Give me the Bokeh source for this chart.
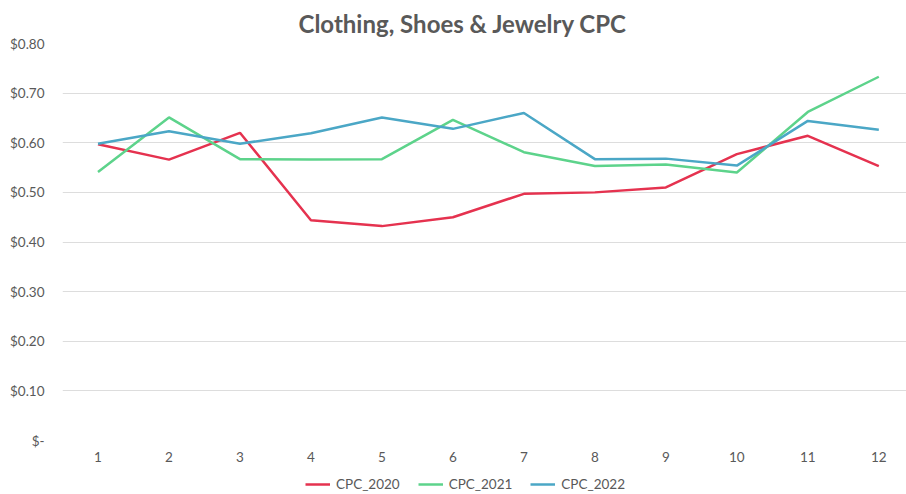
from bokeh.plotting import figure
from bokeh.layouts import column
from bokeh.models import (ColumnDataSource, Legend, LegendItem, FixedTicker,
                          CustomJSTickFormatter, Range1d)
from bokeh.embed import file_html
from bokeh.resources import INLINE

months = [1, 2, 3, 4, 5, 6, 7, 8, 9, 10, 11, 12]
cpc_2020 = [0.597, 0.566, 0.620, 0.444, 0.432, 0.450, 0.497, 0.500, 0.510, 0.577, 0.614, 0.553]
cpc_2021 = [0.541, 0.651, 0.567, 0.566, 0.567, 0.646, 0.581, 0.553, 0.556, 0.540, 0.662, 0.733]
cpc_2022 = [0.598, 0.623, 0.598, 0.619, 0.651, 0.628, 0.660, 0.567, 0.568, 0.554, 0.644, 0.626]
series_names = ["CPC_2020", "CPC_2021", "CPC_2022"]
colors = ["#E5324F", "#5DD38B", "#4BA7C6"]
y_ticks = [0.0, 0.1, 0.2, 0.3, 0.4, 0.5, 0.6, 0.7, 0.8]

FONT = "Lato"
GREY = "#595959"

p = figure(width=906, height=472, output_backend="svg", toolbar_location=None,
           x_range=Range1d(0.5, 12.39), y_range=Range1d(0, 0.8),
           min_border_left=62, min_border_right=0, min_border_top=8,
           min_border_bottom=32)
p.outline_line_color = None

p.title.text = "Clothing, Shoes & Jewelry CPC"
p.title.align = "left"
p.title.offset = 236
p.title.standoff = 12
p.title.text_font = FONT
p.title.text_font_size = "24px"
p.title.text_font_style = "bold"
p.title.text_color = GREY

src = ColumnDataSource(dict(x=months, a=cpc_2020, b=cpc_2021, c=cpc_2022))
for col, c in zip(["a", "b", "c"], colors):
    p.line("x", col, source=src, line_color=c, line_width=2.5)

p.xaxis.ticker = FixedTicker(ticks=months)
p.xaxis.axis_line_color = None
p.xaxis.major_tick_line_color = None
p.xaxis.major_tick_out = 0
p.xaxis.minor_tick_line_color = None
p.xaxis.major_label_text_font = FONT
p.xaxis.major_label_text_font_size = "13.5px"
p.xaxis.major_label_text_color = GREY
p.xaxis.major_label_standoff = 11

p.yaxis.ticker = FixedTicker(ticks=y_ticks)
p.yaxis.formatter = CustomJSTickFormatter(code='return tick < 1e-9 ? "$-" : "$" + tick.toFixed(2);')
p.yaxis.axis_line_color = None
p.yaxis.major_tick_line_color = None
p.yaxis.major_tick_out = 0
p.yaxis.minor_tick_line_color = None
p.yaxis.major_label_text_font = FONT
p.yaxis.major_label_text_font_size = "13.5px"
p.yaxis.major_label_text_color = GREY
p.yaxis.major_label_standoff = 18

p.xgrid.grid_line_color = None
p.ygrid.ticker = FixedTicker(ticks=y_ticks)
p.ygrid.grid_line_color = "#DDDDDD"
p.ygrid.grid_line_width = 1

# legend strip below the chart (its lines lie outside its visible range)
lg = figure(width=906, height=22, output_backend="svg", toolbar_location=None,
            x_axis_type=None, y_axis_type=None,
            x_range=Range1d(100, 101), y_range=Range1d(100, 101),
            min_border_left=0, min_border_right=0, min_border_top=0, min_border_bottom=0)
lg.outline_line_color = None
lg.grid.visible = False
legend_renderers = [lg.line("x", col, source=src, line_color=c, line_width=2.5)
                    for col, c in zip(["a", "b", "c"], colors)]
legend = Legend(items=[LegendItem(label=n, renderers=[r]) for n, r in zip(series_names, legend_renderers)],
                orientation="horizontal", location=(243, 0),
                label_text_font=FONT, label_text_font_size="13.5px", label_text_color=GREY,
                glyph_width=25, glyph_height=20, label_standoff=6, spacing=18,
                padding=1, margin=0, border_line_color=None, background_fill_alpha=0)
lg.add_layout(legend, "center")

open("out.html", "w").write(file_html(column(p, lg, spacing=0), INLINE))
